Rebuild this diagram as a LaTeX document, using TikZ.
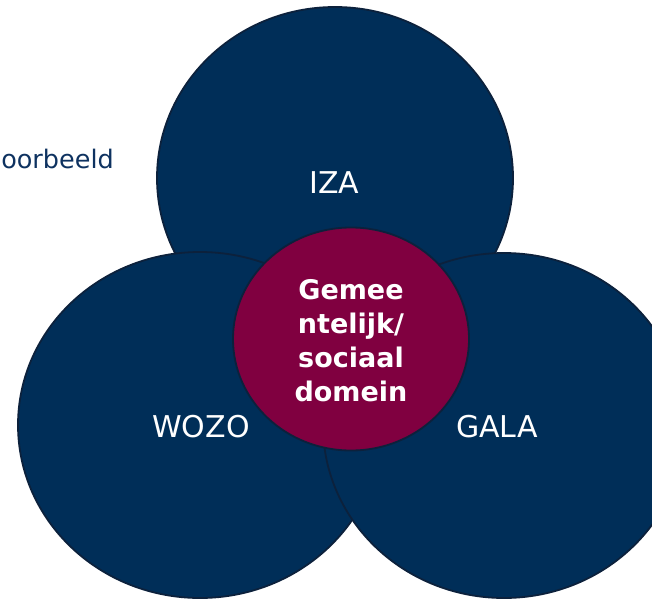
\documentclass[tikz,border=0pt]{standalone}
\usepackage{fontspec}
\setmainfont{DejaVu Sans}
\usetikzlibrary{shapes.geometric}
\definecolor{navyfill}{RGB}{0,46,88}
\definecolor{navyline}{RGB}{12,33,60}
\definecolor{magfill}{RGB}{128,0,64}
\definecolor{navytext}{RGB}{14,50,96}
\tikzset{
  bubble/.style={ellipse, inner sep=0pt, fill=navyfill, draw=navyline, line width=1.8pt},
  core/.style={ellipse, inner sep=0pt, fill=magfill, draw=navyline, line width=1.8pt},
  lab/.style={text=white, font=\fontsize{30}{36}\selectfont, inner sep=0pt},
  corelab/.style={text=white, align=center, inner sep=0pt, font=\bfseries\fontsize{27}{34}\selectfont}
}
\begin{document}
\begin{tikzpicture}[x=1pt,y=-1pt]
\useasboundingbox (0,0) rectangle (652,599);
\node[bubble, minimum width=356pt, minimum height=342pt] (iza) at (335,178) {};
\node[bubble, minimum width=364pt, minimum height=346pt] (wozo) at (200,425) {};
\node[bubble, minimum width=362pt, minimum height=345pt] (gala) at (504,425.5) {};
\node[core, minimum width=236pt, minimum height=223pt] (gem) at (351,339) {};
\node[lab] (izat) at (334.5,182.5) {IZA};
\node[lab] (wozot) at (201,426.5) {WOZO};
\node[lab] (galat) at (497,426.5) {GALA};
\node[corelab] (gemt) at (351,341) {Gemee\\ntelijk/\\sociaal\\domein};
\node[anchor=base east, inner sep=0pt, text=navytext, font=\fontsize{25.5}{30}\selectfont] (vb) at (114,168) {oorbeeld};
\end{tikzpicture}
\end{document}
